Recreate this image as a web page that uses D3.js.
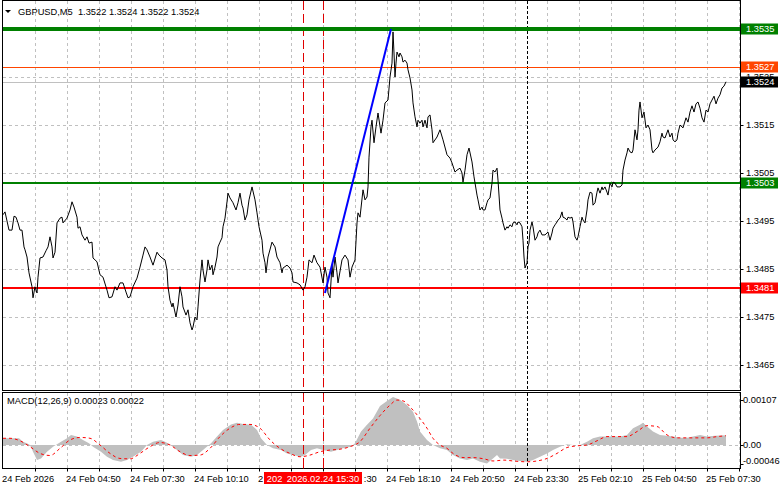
<!DOCTYPE html>
<html><head><meta charset="utf-8">
<script src="https://cdn.jsdelivr.net/npm/d3@7"></script>
<style>body{margin:0;background:#fff}svg{display:block}</style>
</head><body><svg id="c" width="781" height="489"></svg>
<script>
const symbolTitle = "GBPUSD,M5  1.3522 1.3524 1.3522 1.3524";
const macdTitle = "MACD(12,26,9) 0.00023 0.00022";
const priceTicks = [1.3465,1.3475,1.3485,1.3495,1.3505,1.3515,1.3525,1.3535];
const timeTickBars = [0,32,64,96,128,160,192,224,256,288,320,352];
const timeTickLabels = ["24 Feb 2026","24 Feb 04:50","24 Feb 07:30","24 Feb 10:10","24 Feb 12:50","24 Feb 15:30","24 Feb 18:10","24 Feb 20:50","24 Feb 23:30","25 Feb 02:10","25 Feb 04:50","25 Feb 07:30"];
const levelPrices = [1.3535,1.3527,1.3503,1.3481];
const bidPrice = 1.3524;
const trendLine = [[161,1.3480],[194,1.3535]];
const markerBars = [150,160];
const markerLabels = ["2026.02.24 14:40","2026.02.24 15:30"];
const daySeparatorBar = 262;
const macdTickValues = [0.00107,0,-0.00046];
const macdTickLabels = ["0.00107","0.00","-0.00046"];
// [bar index (5-min bars), close]
const closes = [[0,1.34963],[1,1.34969],[3,1.34931],[4.5,1.34931],[5.5,1.34960],[6.5,1.34958],[7.5,1.34946],[8.5,1.34931],[9.5,1.34931],[10.5,1.34896],[11,1.34890],[12,1.34875],[13,1.34842],[14.5,1.34813],[15,1.34790],[16,1.34813],[17,1.34800],[17.5,1.34833],[18.5,1.34873],[20,1.34875],[21.5,1.34888],[22.5,1.34896],[23.5,1.34917],[24.5,1.34896],[25,1.34873],[26,1.34885],[27,1.34946],[28.5,1.34956],[29.5,1.34958],[30,1.34946],[32,1.34956],[33.5,1.34973],[34.5,1.34990],[35.5,1.34979],[37,1.34958],[37.5,1.34935],[38.5,1.34938],[39.5,1.34921],[41,1.34910],[42,1.34917],[43,1.34904],[44.5,1.34906],[45,1.34873],[47,1.34865],[48.5,1.34838],[50,1.34833],[52,1.34806],[53,1.34790],[54.5,1.34792],[56,1.34813],[57,1.34806],[58.5,1.34821],[60,1.34821],[61.5,1.34802],[62.5,1.34790],[63.5,1.34792],[65,1.34813],[67,1.34831],[68.5,1.34854],[70,1.34879],[71,1.34896],[72,1.34890],[73.5,1.34875],[75,1.34858],[77,1.34885],[78,1.34879],[79.5,1.34873],[81,1.34869],[82,1.34848],[82.5,1.34813],[83.5,1.34785],[84.5,1.34771],[85,1.34779],[86.5,1.34750],[87.5,1.34775],[88.5,1.34813],[89.5,1.34792],[90,1.34771],[91.5,1.34754],[92.5,1.34765],[93.5,1.34738],[94.5,1.34723],[95,1.34729],[96,1.34750],[97,1.34744],[97.5,1.34771],[98.5,1.34827],[99.5,1.34869],[100,1.34848],[101,1.34823],[102,1.34848],[102.5,1.34869],[103.5,1.34848],[104.5,1.34858],[105,1.34838],[106,1.34854],[107,1.34875],[107.5,1.34896],[108.5,1.34906],[109.5,1.34915],[110,1.34938],[111,1.34956],[112,1.34990],[112.5,1.35008],[113.5,1.34998],[115,1.34988],[116.5,1.34973],[117.5,1.34988],[118.5,1.35008],[119.5,1.34983],[120,1.34977],[121,1.34952],[122,1.34963],[123,1.34994],[124.5,1.35021],[126,1.34994],[127,1.34967],[128,1.34938],[129.5,1.34910],[130,1.34883],[131,1.34863],[131.5,1.34842],[132.5,1.34875],[134.5,1.34906],[136,1.34896],[137,1.34875],[138.5,1.34863],[139.5,1.34842],[140,1.34852],[142,1.34858],[143.5,1.34852],[144.5,1.34842],[145,1.34823],[147,1.34821],[148.5,1.34817],[150,1.34806],[151,1.34813],[152,1.34833],[153,1.34869],[154.5,1.34863],[155.5,1.34879],[157,1.34863],[158.5,1.34854],[160,1.34821],[161,1.34854],[162,1.34833],[162.5,1.34800],[163.5,1.34790],[164.5,1.34858],[165,1.34833],[166,1.34875],[167,1.34842],[167.5,1.34821],[169.5,1.34869],[171,1.34879],[172.5,1.34869],[173.5,1.34833],[174.5,1.34854],[176,1.34869],[177,1.34946],[177.5,1.34967],[178.5,1.34958],[180,1.35015],[181,1.34994],[182,1.35000],[182.5,1.35021],[183,1.35083],[184,1.35146],[184.5,1.35160],[185.5,1.35113],[186.5,1.35146],[187.5,1.35175],[189,1.35133],[190,1.35160],[191,1.35196],[192.5,1.35202],[193.5,1.35250],[194.5,1.35279],[195,1.35344],[195.5,1.35300],[196,1.35250],[196.5,1.35279],[197,1.35302],[198,1.35292],[198.5,1.35300],[199.5,1.35292],[200,1.35281],[201,1.35285],[202,1.35279],[202.5,1.35265],[203.5,1.35248],[204.5,1.35223],[205,1.35196],[206,1.35167],[207,1.35146],[207.5,1.35160],[208.5,1.35154],[209.5,1.35160],[210,1.35146],[211,1.35160],[212,1.35144],[212.5,1.35167],[213.5,1.35171],[214.5,1.35140],[215,1.35113],[217,1.35125],[218.5,1.35140],[220,1.35119],[222,1.35088],[223.5,1.35081],[224.5,1.35071],[226,1.35052],[227,1.35056],[228.5,1.35060],[229.5,1.35050],[230,1.35031],[231,1.35056],[232,1.35088],[233,1.35102],[234.5,1.35073],[235.5,1.35042],[237,1.35004],[237.5,1.34994],[238.5,1.34973],[239.5,1.34979],[240,1.34973],[241,1.34973],[242,1.34988],[242.5,1.34994],[243.5,1.34998],[244.5,1.35029],[245,1.35056],[246,1.35052],[247,1.35060],[247.5,1.35035],[248.5,1.34973],[249.5,1.34956],[250,1.34946],[251,1.34931],[252,1.34938],[252.5,1.34935],[253.5,1.34942],[254.5,1.34938],[255,1.34946],[256,1.34948],[257,1.34942],[257.5,1.34948],[258.5,1.34946],[259.5,1.34938],[260,1.34910],[260.5,1.34875],[261,1.34852],[262,1.34863],[262.5,1.34896],[263,1.34904],[263.5,1.34931],[264.5,1.34948],[265,1.34938],[266,1.34910],[267,1.34917],[267.5,1.34925],[268.5,1.34931],[269.5,1.34921],[271,1.34921],[272,1.34925],[272.5,1.34927],[273.5,1.34910],[274.5,1.34925],[275,1.34935],[276,1.34942],[277,1.34948],[277.5,1.34952],[278.5,1.34956],[279.5,1.34969],[280,1.34958],[281,1.34956],[282,1.34952],[282.5,1.34958],[283.5,1.34956],[284.5,1.34958],[285,1.34948],[286,1.34917],[287,1.34910],[287.5,1.34917],[288.5,1.34938],[289.5,1.34958],[290,1.34952],[291,1.34946],[292,1.34973],[292.5,1.34994],[293.5,1.35010],[294.5,1.35008],[295,1.34983],[296,1.34988],[297,1.35010],[297.5,1.35019],[298.5,1.35008],[299.5,1.35021],[300,1.35015],[301,1.35021],[302,1.35010],[302.5,1.35004],[303.5,1.35029],[304.5,1.35021],[305,1.35031],[306,1.35029],[307,1.35021],[308.5,1.35021],[309.5,1.35025],[310,1.35056],[311,1.35077],[312,1.35092],[312.5,1.35102],[313.5,1.35094],[314.5,1.35092],[315,1.35098],[316,1.35140],[317,1.35119],[317.5,1.35140],[318,1.35181],[318.5,1.35198],[319.5,1.35165],[320.5,1.35177],[321.5,1.35144],[322.5,1.35150],[323.5,1.35140],[324.5,1.35098],[325,1.35092],[326,1.35098],[327.5,1.35104],[328.5,1.35115],[329.5,1.35133],[330,1.35125],[331,1.35123],[332.5,1.35140],[333.5,1.35125],[334.5,1.35133],[335,1.35119],[336,1.35115],[337,1.35119],[337.5,1.35133],[338.5,1.35150],[340,1.35144],[341.5,1.35165],[342.5,1.35156],[343.5,1.35177],[344.5,1.35190],[345.5,1.35177],[346.5,1.35194],[347.5,1.35198],[348.5,1.35185],[349.5,1.35165],[350.5,1.35156],[351.5,1.35181],[352.5,1.35177],[353.5,1.35194],[354.5,1.35202],[355.5,1.35210],[356.5,1.35194],[357.5,1.35206],[358.5,1.35213],[359.5,1.35227],[360.5,1.35231],[361.5,1.35240]];
// [bar index, MACD histogram value]
const macdHist = [[0,0.00016],[8,0.00016],[10,0.00008],[13,0.00002],[14,-0.00004],[15,-0.00016],[17,-0.00036],[19,-0.00032],[22,-0.00016],[25,-0.00004],[29,0.00008],[32,0.00016],[34,0.00024],[37,0.0002],[40,0.00012],[43,0.00004],[45,-0.00004],[49,-0.00016],[52,-0.00028],[55,-0.00036],[59,-0.0004],[62,-0.00036],[65,-0.00028],[69,-0.00016],[72,0],[75,0.00008],[79,0.00012],[81,0.00008],[84,0],[87,-0.00012],[90,-0.00024],[94,-0.00028],[97,-0.00024],[100,-0.00012],[104,0.00004],[107,0.0002],[110,0.00036],[114,0.00049],[117,0.00053],[120,0.0005],[124,0.00048],[127,0.00036],[129,0.00016],[132,0],[135,-0.00008],[139,-0.00012],[142,-0.0002],[145,-0.00024],[149,-0.00028],[151,-0.00024],[154,-0.00012],[157,-0.00008],[160,-0.00012],[164,-0.00016],[167,-0.00012],[170,-0.00008],[174,-0.00004],[176,0.00004],[179,0.00032],[182,0.00048],[185,0.00063],[188.5,0.00093],[192,0.00105],[195,0.00114],[198.5,0.00108],[202,0.00095],[205,0.00079],[207,0.00056],[208.5,0.00032],[212,0.00012],[215,0],[218.5,-0.00008],[222,-0.00012],[225,-0.00024],[228.5,-0.00032],[232,-0.00036],[235,-0.00032],[238.5,-0.0004],[242,-0.00044],[245,-0.00032],[247,-0.00024],[248.5,-0.00032],[252,-0.00033],[255,-0.00036],[258.5,-0.00038],[262,-0.0004],[265,-0.00036],[268.5,-0.00028],[272,-0.0002],[275,-0.00012],[278.5,-0.00004],[282,0.00002],[285,0],[288.5,0],[292,0.00008],[295,0.00016],[298.5,0.0002],[302,0.0002],[305,0.0002],[308.5,0.0002],[312,0.00024],[315,0.0004],[318.5,0.00048],[320,0.00053],[322,0.00044],[325,0.00032],[328.5,0.00024],[332,0.00022],[335,0.0002],[338.5,0.00017],[342,0.00017],[345,0.0002],[348.5,0.00024],[352,0.0002],[356,0.00022],[361.5,0.00023]];
// [bar index, signal value]
const macdSignal = [[0,0.00016],[3.5,0.00016],[8.5,0.0001],[13.5,-0.00004],[18.5,-0.0002],[23.5,-0.00025],[28.5,-0.00008],[33.5,0.00012],[38.5,0.00018],[43.5,0.00016],[48.5,0],[53.5,-0.0002],[58.5,-0.00032],[63.5,-0.00033],[68.5,-0.0002],[73.5,-0.00004],[78.5,0.00006],[83.5,0],[88.5,-0.00016],[93.5,-0.00025],[98.5,-0.00024],[103.5,-0.00008],[108.5,0.0002],[113.5,0.0004],[118.5,0.00049],[123.5,0.00049],[128.5,0.0004],[133.5,0.00012],[138.5,-0.00008],[143.5,-0.0002],[148.5,-0.00028],[153.5,-0.00024],[158.5,-0.00016],[163.5,-0.00012],[168.5,-0.0001],[173.5,-0.00004],[178.5,0.00008],[183.5,0.0004],[188.5,0.0007],[193.5,0.00095],[197,0.00107],[200,0.00105],[205,0.00083],[208.5,0.00063],[212,0.0004],[215,0.00016],[218.5,0],[222,-0.00008],[225,-0.0002],[230.5,-0.0003],[235,-0.0003],[240.5,-0.00033],[245,-0.00038],[250.5,-0.00036],[255,-0.00038],[262,-0.0004],[267,-0.00038],[272,-0.00032],[277,-0.0002],[282,-0.00006],[287,-0.00002],[292,0],[297,0.0001],[302,0.0002],[307,0.0002],[312,0.0002],[317,0.00032],[322,0.00046],[327,0.00044],[332,0.00024],[337,0.00017],[342,0.00017],[347,0.00017],[352,0.00017],[357,0.0002],[361.5,0.00022]];

const svg = d3.select("#c");
const FONT = "Liberation Sans, Arial, sans-serif";
const FS = 9.3;
const L = 2.5, R = 740.5, mTop = 0.5, mBot = 390.5, dTop = 392.5, dBot = 468.5;
const x = d3.scaleLinear().domain([0, 368.5]).range([3, 740]);
const y = d3.scaleLinear().domain([1.3465, 1.3535]).range([365, 29]);
const ym = d3.scaleLinear().domain([0, 0.001]).range([445, 403]);
const px = v => Math.round(v) + 0.5;

const defs = svg.append("defs");
defs.append("clipPath").attr("id","cm").append("rect").attr("x",L).attr("y",mTop).attr("width",R-L).attr("height",mBot-mTop);
defs.append("clipPath").attr("id","cd").append("rect").attr("x",L).attr("y",dTop).attr("width",R-L).attr("height",dBot-dTop);

const gm = svg.append("g").attr("clip-path","url(#cm)");
const gd = svg.append("g").attr("clip-path","url(#cd)");
const gridColor = "#c0c0c0";
const gridBars = d3.range(16, 369, 16);

// grids
[[gm,mTop,mBot],[gd,dTop,dBot]].forEach(([g,t,b]) => {
  g.selectAll(null).data(gridBars).join("line")
    .attr("x1", d => px(x(d))).attr("x2", d => px(x(d)))
    .attr("y1", t).attr("y2", b)
    .attr("stroke", gridColor).attr("stroke-dasharray","3,3").attr("shape-rendering","crispEdges");
});
gm.selectAll(null).data(priceTicks).join("line")
  .attr("x1", L).attr("x2", R)
  .attr("y1", d => px(y(d))).attr("y2", d => px(y(d)))
  .attr("stroke", gridColor).attr("stroke-dasharray","3,3").attr("shape-rendering","crispEdges");
gd.append("line").attr("x1",L).attr("x2",R)
  .attr("y1", px(ym(0))).attr("y2", px(ym(0)))
  .attr("stroke", gridColor).attr("stroke-dasharray","3,3").attr("shape-rendering","crispEdges");

// bid line
gm.append("line").attr("x1",L).attr("x2",R)
  .attr("y1", px(y(bidPrice))).attr("y2", px(y(bidPrice)))
  .attr("stroke","#c0c0c0").attr("shape-rendering","crispEdges");

// MACD histogram + signal
gd.append("path").datum(macdHist)
  .attr("d", d3.area().x(d => x(d[0])).y0(ym(0)).y1(d => ym(d[1])))
  .attr("fill","#c0c0c0");
gd.append("path").datum(macdSignal)
  .attr("d", d3.line().x(d => x(d[0])).y(d => ym(d[1])).curve(d3.curveMonotoneX))
  .attr("fill","none").attr("stroke","#ff0000").attr("stroke-width",1).attr("stroke-dasharray","3,3");

// vertical markers
[[gm,mTop,mBot],[gd,dTop,dBot]].forEach(([g,t,b]) => {
  g.selectAll(null).data(markerBars).join("line")
    .attr("x1", d => px(x(d))).attr("x2", d => px(x(d)))
    .attr("y1", t).attr("y2", b)
    .attr("stroke","#e00000").attr("stroke-dasharray","9,4").attr("shape-rendering","crispEdges");
  g.append("line")
    .attr("x1", px(x(daySeparatorBar))).attr("x2", px(x(daySeparatorBar)))
    .attr("y1", t).attr("y2", b)
    .attr("stroke","#000").attr("stroke-dasharray","3,2").attr("shape-rendering","crispEdges");
});

// horizontal levels
const levelColors = ["#008000","#ff4500","#008000","#ff0000"];
const levelWidths = [4,1,2,2];
gm.selectAll(null).data(levelPrices).join("line")
  .attr("x1", L).attr("x2", R)
  .attr("y1", (d,i) => levelWidths[i] % 2 ? px(y(d)) : Math.round(y(d)))
  .attr("y2", (d,i) => levelWidths[i] % 2 ? px(y(d)) : Math.round(y(d)))
  .attr("stroke", (d,i) => levelColors[i]).attr("stroke-width", (d,i) => levelWidths[i])
  .attr("shape-rendering","crispEdges");

// price line
gm.append("path").datum(closes)
  .attr("d", d3.line().x(d => x(d[0])).y(d => y(d[1])))
  .attr("fill","none").attr("stroke","#000").attr("stroke-width",1);

// trend line
gm.append("line")
  .attr("x1", x(trendLine[0][0])).attr("y1", y(trendLine[0][1]))
  .attr("x2", x(trendLine[1][0])).attr("y2", y(trendLine[1][1]))
  .attr("stroke","#0000ff").attr("stroke-width",2);

// frames
svg.append("rect").attr("x",L).attr("y",mTop).attr("width",R-L).attr("height",mBot-mTop).attr("fill","none").attr("stroke","#000").attr("shape-rendering","crispEdges");
svg.append("rect").attr("x",L).attr("y",dTop).attr("width",R-L).attr("height",dBot-dTop).attr("fill","none").attr("stroke","#000").attr("shape-rendering","crispEdges");

// price axis
const ax = svg.append("g").attr("font-family",FONT).attr("font-size",FS);
ax.selectAll(null).data(priceTicks).join("line")
  .attr("x1",R).attr("x2",R+3).attr("y1",d=>px(y(d))).attr("y2",d=>px(y(d))).attr("stroke","#000");
ax.selectAll(null).data(priceTicks).join("text")
  .attr("x",746).attr("y",d=>y(d)).attr("dy","0.35em").text(d=>d.toFixed(4)).attr("fill","#000");
// macd axis
ax.selectAll(null).data(macdTickValues).join("line")
  .attr("x1",R).attr("x2",R+3).attr("y1",d=>px(Math.min(ym(d),465))).attr("y2",d=>px(Math.min(ym(d),465))).attr("stroke","#000");
ax.selectAll(null).data(macdTickValues).join("text")
  .attr("x",743).attr("y",d=>Math.min(ym(d),461)).attr("dy","0.35em").text((d,i)=>macdTickLabels[i]);

// level labels
const levelLabelData = levelPrices.map((p,i)=>({p, c: levelColors[i]})).concat([{p: bidPrice, c: "#000"}]);
const lg = ax.selectAll(null).data(levelLabelData).join("g");
lg.append("rect").attr("x",741).attr("width",37).attr("y",d=>Math.round(y(d.p))-5.5).attr("height",11).attr("fill",d=>d.c);
lg.append("text").attr("x",746).attr("y",d=>Math.round(y(d.p))).attr("dy","0.35em").attr("fill","#fff").text(d=>d.p.toFixed(4));

// keep only the characters of a text that are not covered by the given x ranges
function keepVisible(textSel, covers) {
  const node = textSel.node();
  const s = node.textContent;
  const frags = [];
  let cur = null;
  for (let k = 0; k < s.length; k++) {
    const e = node.getExtentOfChar(k);
    const hidden = covers.some(c => e.x + e.width > c[0] + 0.5 && e.x < c[1] - 0.5);
    if (!hidden) {
      if (!cur) { cur = {x: e.x, t: ""}; frags.push(cur); }
      cur.t += s[k];
    } else cur = null;
  }
  const parent = d3.select(node.parentNode);
  const yv = textSel.attr("y"), fill = textSel.attr("fill") || "#000";
  textSel.remove();
  frags.filter(f => f.t.trim().length).forEach(f => {
    parent.append("text").attr("x", f.x).attr("y", yv).attr("fill", fill)
      .style("white-space","pre").text(f.t);
  });
}

// time axis
const markerBoxes = markerBars.map(b => [x(b) - 39, x(b) + 39]);
const coverAll = [[d3.min(markerBoxes, d => d[0]), d3.max(markerBoxes, d => d[1])]];
ax.selectAll(null).data(gridBars).join("line")
  .attr("x1",d=>px(x(d))).attr("x2",d=>px(x(d))).attr("y1",dBot).attr("y2",dBot+3).attr("stroke","#000");
const tl = ax.selectAll(null).data(timeTickBars).join("text")
  .attr("x",d=>x(d)-1).attr("y",482).text((d,i)=>timeTickLabels[i]);
tl.each(function(){ keepVisible(d3.select(this), coverAll); });
markerBars.forEach((b,i) => {
  const cx = x(b);
  ax.append("line").attr("x1",px(cx)).attr("x2",px(cx)).attr("y1",dBot-3).attr("y2",dBot).attr("stroke","#e00000");
  ax.append("rect").attr("x",cx-39).attr("y",472).attr("width",78).attr("height",12).attr("fill","#ff0000");
  const t = ax.append("text").attr("x",cx).attr("y",482).attr("text-anchor","middle").attr("fill","#fff").text(markerLabels[i]);
  const later = markerBoxes.slice(i + 1);
  if (later.length) {
    const bb = t.node().getBBox();
    t.attr("text-anchor", null).attr("x", bb.x);
    keepVisible(t, later);
  }
});

// titles
svg.append("path").attr("d","M5,10L11,10L8,13Z").attr("fill","#000");
svg.append("text").attr("x",18).attr("y",15).attr("font-family",FONT).attr("font-size",FS).style("white-space","pre").text(symbolTitle);
svg.append("text").attr("x",7).attr("y",404).attr("font-family",FONT).attr("font-size",FS).text(macdTitle);
</script></body></html>
